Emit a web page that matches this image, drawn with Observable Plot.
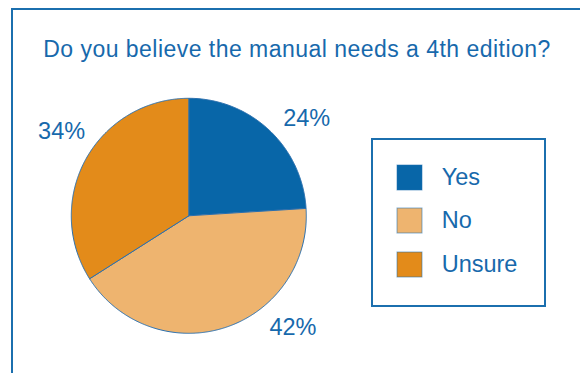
<!DOCTYPE html>
<html>
<head>
<meta charset="utf-8">
<script src="https://cdn.jsdelivr.net/npm/d3@7"></script>
<script src="https://cdn.jsdelivr.net/npm/@observablehq/plot@0.6"></script>
<style>
  html, body { margin: 0; padding: 0; background: #fff; }
  #page { position: relative; width: 580px; height: 373px; overflow: hidden; background: #fff;
          font-family: "Liberation Sans", Arial, Helvetica, sans-serif; color: #1769ac; }
  #frame { position: absolute; left: 11px; top: 7.5px; width: 640px; height: 420px;
           border: 2.5px solid #1b6fae; box-sizing: border-box; }
  #title { position: absolute; left: 0; top: 37.8px; width: 594px; text-align: center;
           font-size: 23px; line-height: 23px; letter-spacing: 0.47px; white-space: nowrap; }
  #chart { position: absolute; left: 0; top: 0; }
  #legendbox { position: absolute; left: 371px; top: 138.3px; width: 175.3px; height: 168.7px;
               border: 2px solid #1b6fae; box-sizing: border-box; padding: 24.7px 0 0 24.3px; }
  #legendbox .lg-swatches { font-family: "Liberation Sans", Arial, sans-serif; font-size: 23.5px;
               color: #1769ac; margin: 0; }
  #legendbox .lg-swatch { display: flex; align-items: center; height: 25px; margin-bottom: 18.3px; padding: 0; }
  #legendbox .lg-swatch > svg { margin-right: 19.4px; overflow: visible; flex-shrink: 0; }
  #legendbox .lg-swatch rect { stroke: #1f6fae; stroke-opacity: 0.55; stroke-width: 1px; }
  #legendbox .lg-swatch-label { line-height: 25px; }
</style>
</head>
<body>
<div id="page">
  <div id="frame"></div>
  <div id="title">Do you believe the manual needs a 4th edition?</div>
  <div id="chart"></div>
  <div id="legendbox"></div>
</div>
<script>
// ---- data ----
const categories = ["Yes", "No", "Unsure"];
const percents = [24, 42, 34];
const labels = ["24%", "42%", "34%"];
const colors = ["#0866a8", "#eeb46f", "#e38b1a"];
// ---- layout (label placement angles, degrees clockwise from 12 o'clock) ----
const labelAngles = [50.5, 137, 303.6];
const labelRadius = 1.3;

// slice polygons in unit-circle data space
const total = d3.sum(percents);
let acc = 0;
const slicePts = [];
categories.forEach((c, i) => {
  const a0 = acc / total * 2 * Math.PI;
  acc += percents[i];
  const a1 = acc / total * 2 * Math.PI;
  const n = Math.max(2, Math.ceil((a1 - a0) / (Math.PI / 360)));
  slicePts.push({category: c, x: 0, y: 0});
  for (let k = 0; k <= n; k++) {
    const a = a0 + (a1 - a0) * k / n;
    slicePts.push({category: c, x: Math.sin(a), y: Math.cos(a)});
  }
  slicePts.push({category: c, x: 0, y: 0});
});

const labelData = labels.map((t, i) => {
  const a = labelAngles[i] * Math.PI / 180;
  return {text: t, x: labelRadius * Math.sin(a), y: labelRadius * Math.cos(a)};
});

const chart = Plot.plot({
  width: 580,
  height: 373,
  marginLeft: 70.8,
  marginRight: 274.2,
  marginTop: 97.8,
  marginBottom: 40.2,
  x: {domain: [-1, 1], axis: null},
  y: {domain: [-1, 1], axis: null},
  color: {domain: categories, range: colors},
  style: {fontFamily: "Liberation Sans, Arial, sans-serif", overflow: "visible", background: "transparent"},
  marks: [
    Plot.line(slicePts, {x: "x", y: "y", z: "category", fill: "category", stroke: "#2a6fae", strokeWidth: 1, strokeLinejoin: "round"}),
    Plot.text(labelData, {x: "x", y: "y", text: "text", fontSize: 23.5, fill: "#1769ac"})
  ]
});
document.getElementById("chart").appendChild(chart);

const legend = Plot.legend({
  color: {domain: categories, range: colors},
  className: "lg",
  swatchSize: 25,
  columns: 1
});
document.getElementById("legendbox").appendChild(legend);
</script>
</body>
</html>
